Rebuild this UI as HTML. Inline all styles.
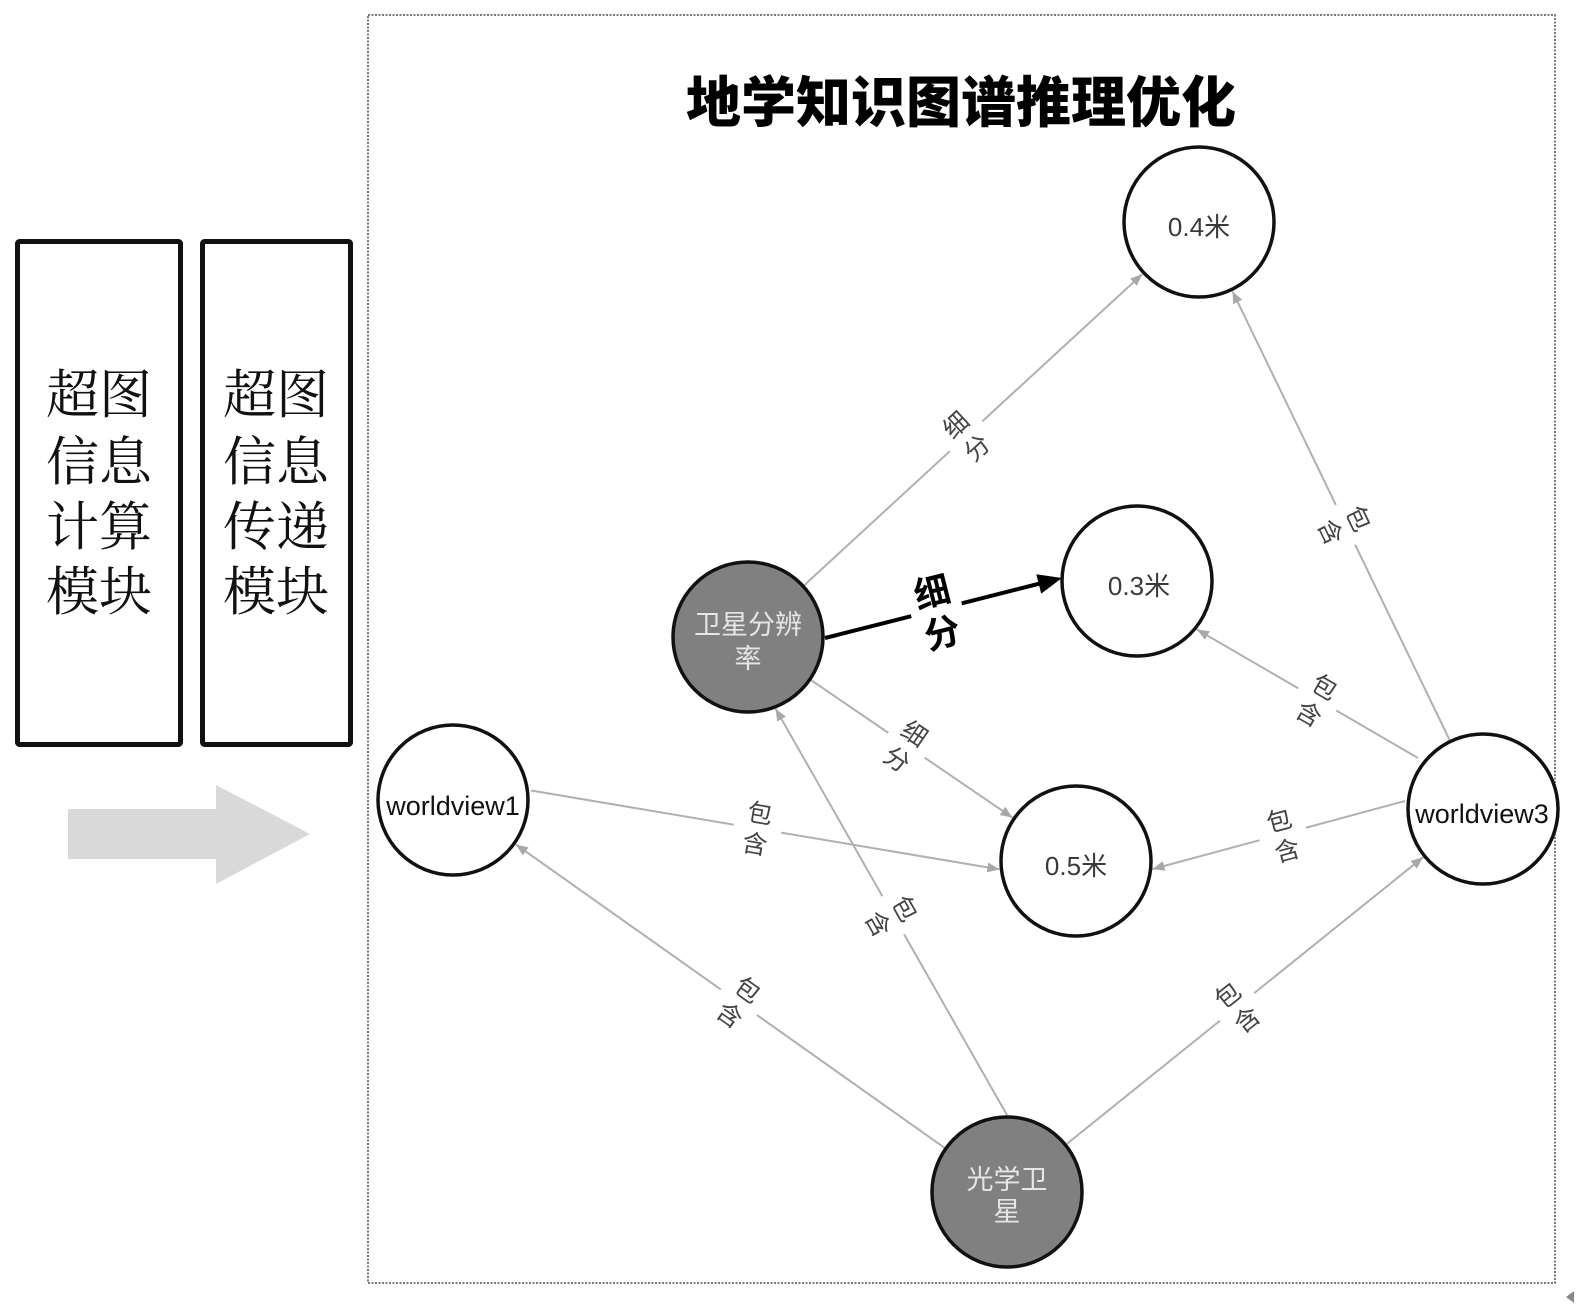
<!DOCTYPE html>
<html>
<head>
<meta charset="utf-8">
<style>
  html, body { margin: 0; padding: 0; background: #fff; }
  svg { display: block; }
  .lbl { font-family: "Liberation Sans", "Noto Sans CJK SC", sans-serif; font-size: 25px; fill: #444; text-anchor: middle; }
  .node { font-family: "Liberation Sans", "Noto Sans CJK SC", sans-serif; text-anchor: middle; }
  .box { font-family: "Liberation Serif", "Noto Serif CJK SC", serif; font-size: 53px; fill: #111; text-anchor: middle; }
</style>
</head>
<body>
<svg width="1587" height="1315" viewBox="0 0 1587 1315" xmlns="http://www.w3.org/2000/svg">
  <defs>
    <marker id="ga" markerUnits="userSpaceOnUse" markerWidth="13" markerHeight="11" refX="12" refY="5" orient="auto">
      <path d="M0,0 L12,5 L0,10 z" fill="#a8a8a8"/>
    </marker>
  </defs>
  <rect x="0" y="0" width="1587" height="1315" fill="#fff"/>

  <!-- Left module boxes -->
  <rect x="17.5" y="241.5" width="163" height="503" fill="#fff" stroke="#111" stroke-width="5" rx="2"/>
  <rect x="202.5" y="241.5" width="148" height="503" fill="#fff" stroke="#111" stroke-width="5" rx="2"/>
  <text class="box" x="99" y="413">超图</text>
  <text class="box" x="99" y="480">信息</text>
  <text class="box" x="99" y="545">计算</text>
  <text class="box" x="99" y="610">模块</text>
  <text class="box" x="276" y="413">超图</text>
  <text class="box" x="276" y="480">信息</text>
  <text class="box" x="276" y="545">传递</text>
  <text class="box" x="276" y="610">模块</text>

  <!-- big gray arrow -->
  <polygon points="68,809 216,809 216,785 310,834 216,884 216,859 68,859" fill="#d9d9d9"/>

  <!-- dotted frame -->
  <rect x="368" y="15" width="1187" height="1268" fill="none" stroke="#7a7a7a" stroke-width="2" stroke-dasharray="2 1.5"/>
  <polygon points="1566,1297 1574,1291 1574,1303" fill="#888"/>

  <!-- Title -->
  <text x="961" y="122" font-family="Liberation Sans, Noto Sans CJK SC, sans-serif" font-size="55" font-weight="900" fill="#000" text-anchor="middle">地学知识图谱推理优化</text>

  <!-- gray edges -->
  <g stroke="#b0b0b0" stroke-width="2" fill="none" marker-end="url(#ga)">
    <line x1="803.9" y1="585.5" x2="1142.3" y2="274.1"/>
    <line x1="810.8" y1="679.9" x2="1012.4" y2="817.6"/>
    <line x1="531" y1="790.5" x2="999.3" y2="869.4"/>
    <line x1="945.8" y1="1148.7" x2="515.9" y2="844.5"/>
    <line x1="1007" y1="1115" x2="775.6" y2="708.7"/>
    <line x1="1066.2" y1="1144.4" x2="1423" y2="857.3"/>
    <line x1="1405" y1="801" x2="1152.5" y2="869.1"/>
    <line x1="1418" y1="758" x2="1197" y2="629.5"/>
    <line x1="1449.9" y1="740.6" x2="1232.5" y2="291.3"/>
  </g>

  <!-- bold edge -->
  <line x1="825" y1="638" x2="1040" y2="583.5" stroke="#000" stroke-width="4"/>
  <polygon points="1062,578 1036.3,574.2 1041.2,593.6" fill="#000"/>

  <!-- edge labels -->
  <g transform="translate(966,436) rotate(-42.6)">
    <rect x="-22" y="-32" width="44" height="64" fill="#fff"/>
    <text class="lbl" x="0" y="-6">细</text><text class="lbl" x="0" y="25">分</text>
  </g>
  <g transform="translate(906,746) rotate(34.3)">
    <rect x="-22" y="-32" width="44" height="64" fill="#fff"/>
    <text class="lbl" x="0" y="-6">细</text><text class="lbl" x="0" y="25">分</text>
  </g>
  <g transform="translate(757.5,828) rotate(9.6)">
    <rect x="-24" y="-32" width="48" height="64" fill="#fff"/>
    <text class="lbl" x="0" y="-6">包</text><text class="lbl" x="0" y="25">含</text>
  </g>
  <g transform="translate(739,1002) rotate(35.3)">
    <rect x="-22" y="-32" width="44" height="64" fill="#fff"/>
    <text class="lbl" x="0" y="-6">包</text><text class="lbl" x="0" y="25">含</text>
  </g>
  <g transform="translate(892,916) rotate(60.3)">
    <rect x="-22" y="-32" width="44" height="64" fill="#fff"/>
    <text class="lbl" x="0" y="-6">包</text><text class="lbl" x="0" y="25">含</text>
  </g>
  <g transform="translate(1237,1007) rotate(-38.8)">
    <rect x="-22" y="-32" width="44" height="64" fill="#fff"/>
    <text class="lbl" x="0" y="-6">包</text><text class="lbl" x="0" y="25">含</text>
  </g>
  <g transform="translate(1283,835) rotate(-15.1)">
    <rect x="-24" y="-32" width="48" height="64" fill="#fff"/>
    <text class="lbl" x="0" y="-6">包</text><text class="lbl" x="0" y="25">含</text>
  </g>
  <g transform="translate(1317,700) rotate(30.2)">
    <rect x="-22" y="-32" width="44" height="64" fill="#fff"/>
    <text class="lbl" x="0" y="-6">包</text><text class="lbl" x="0" y="25">含</text>
  </g>
  <g transform="translate(1345,525) rotate(64.2)">
    <rect x="-22" y="-32" width="44" height="64" fill="#fff"/>
    <text class="lbl" x="0" y="-6">包</text><text class="lbl" x="0" y="25">含</text>
  </g>
  <!-- bold label -->
  <g transform="translate(937,612) rotate(-14.2)">
    <rect x="-26" y="-44" width="52" height="88" fill="#fff"/>
    <text x="0" y="-7.5" font-family="Liberation Sans, Noto Sans CJK SC, sans-serif" font-size="36" font-weight="700" fill="#000" text-anchor="middle">细</text>
    <text x="0" y="34.5" font-family="Liberation Sans, Noto Sans CJK SC, sans-serif" font-size="36" font-weight="700" fill="#000" text-anchor="middle">分</text>
  </g>

  <!-- nodes -->
  <g stroke="#111" stroke-width="3.5">
    <circle cx="453" cy="800" r="75" fill="#fff"/>
    <circle cx="748" cy="637" r="75" fill="#808080"/>
    <circle cx="1199" cy="222" r="75" fill="#fff"/>
    <circle cx="1137" cy="581" r="75" fill="#fff"/>
    <circle cx="1076" cy="861" r="75" fill="#fff"/>
    <circle cx="1483" cy="809" r="75" fill="#fff"/>
    <circle cx="1007" cy="1192" r="75" fill="#808080"/>
  </g>

  <!-- node texts -->
  <text class="node" x="453" y="815" font-size="27" fill="#111">worldview1</text>
  <text class="node" x="1482" y="823" font-size="27" fill="#111">worldview3</text>
  <text class="node" x="1199" y="236" font-size="26" fill="#3a3a3a">0.4米</text>
  <text class="node" x="1139" y="595" font-size="26" fill="#3a3a3a">0.3米</text>
  <text class="node" x="1076" y="875" font-size="26" fill="#3a3a3a">0.5米</text>
  <text class="node" x="748" y="634" font-size="27" fill="#e6e6e6">卫星分辨</text>
  <text class="node" x="748" y="668" font-size="27" fill="#e6e6e6">率</text>
  <text class="node" x="1007" y="1189" font-size="27" fill="#e6e6e6">光学卫</text>
  <text class="node" x="1007" y="1221" font-size="27" fill="#e6e6e6">星</text>
</svg>
</body>
</html>
